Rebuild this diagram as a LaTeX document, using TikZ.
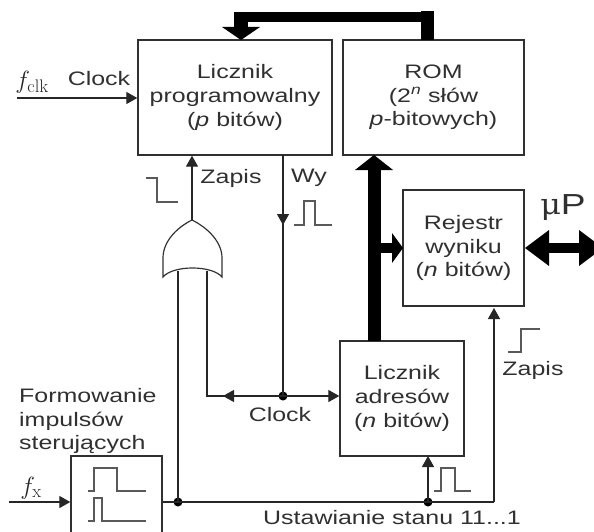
\documentclass[tikz,border=0pt]{standalone}
\usepackage{fontspec}
\setmainfont[FakeStretch=1.28]{Liberation Sans}
\newfontfamily\symfont[FakeStretch=1.1]{DejaVu Serif}
\setmathrm{Latin Modern Roman}
\usetikzlibrary{arrows.meta}
\definecolor{ink}{HTML}{303030}
\tikzset{
  x=1pt,y=-1pt,
  blok/.style={draw=ink,line width=1.4pt,fill=white,minimum width=#1,inner sep=0pt,align=center,text=ink,font=\fontsize{19.5}{23.7}\selectfont},
  txt/.style={text=ink,font=\fontsize{19.5}{23.7}\selectfont,inner sep=0pt,align=center},
  sig/.style={draw=black!85,line width=1.3pt},
  arr/.style={sig,-{Triangle[length=11pt,width=12pt]}},
  puls/.style={draw=black!65,line width=1.1pt},
  dot/.style={circle,fill=black,inner sep=0pt,minimum size=9pt},
  bus/.style={draw=black,line width=#1}
}
\begin{document}
\begin{tikzpicture}
\useasboundingbox (0,0) rectangle (594,532);
\clip (0,0) rectangle (594,532);
% boxes
\node[blok=194pt,minimum height=115pt] (lp) at (235,97.5) {Licznik\\programowalny\\(\textit{p} bitów)};
\node[blok=181pt,minimum height=115pt] (rom) at (433.5,97.5) {ROM\\(2\textsuperscript{\textit{n}} słów\\\textit{p}-bitowych)};
\node[blok=121pt,minimum height=116pt] (rej) at (463.5,248) {Rejestr\\wyniku\\(\textit{n} bitów)};
\node[blok=124pt,minimum height=115pt] (la) at (402,398.5) {Licznik\\adresów\\(\textit{n} bitów)};
\node[blok=91pt,minimum height=90pt] (fi) at (116.5,501) {};
% free ends and junctions
\coordinate (clkin) at (17,98);
\coordinate (fxin) at (9,502);
\coordinate (orout) at (192,220);
\coordinate (orl) at (178,271);
\coordinate (orr) at (207,271);
\node[dot] (j1) at (178,502) {};
\node[dot] (j2) at (428,502) {};
\node[dot] (j3) at (283,396) {};
\coordinate (cor1) at (207,396);
\coordinate (cor2) at (494,502);
% thin connectors
\draw[arr] (clkin) -- (clkin -| lp.west);
\draw[arr] (fxin) -- (fxin -| fi.west);
\draw[arr] (orout) -- (orout |- lp.south);
\draw[arr] (283,155) -- (283,225);
\draw[sig] (283,220) -- (j3.center);
\draw[sig] (orr) -- (cor1) -- (j3.center);
\draw[arr] (j3.center) -- (223,396);
\draw[arr] (j3.center) -- (j3 -| la.west);
\draw[sig] (fi.east |- j1) -- (j2.center) -- (cor2);
\draw[arr] (cor2) -- (494,308);
\draw[arr] (j2.center) -- (428,456);
\draw[sig] (orl) -- (j1.center);
% OR gate
\draw[draw=black!80,line width=1.2pt] (orout) .. controls (176,228) and (163,242) .. (163,258) -- (163,277)
  .. controls (173,265) and (212,265) .. (222,277) -- (222,258)
  .. controls (222,242) and (208,228) .. (orout) -- cycle;
% buses
\draw[bus=13pt] (427.5,40) -- (427.5,11.5);
\draw[bus=10pt] (434,17) -- (233.5,17);
\draw[bus=14pt] (240.5,12) -- (240.5,28);
\fill[black] (222,27) -- (260,27) -- (241,40) -- cycle;
\draw[bus=13pt] (374,341) -- (374,168);
\fill[black] (355,170) -- (393,170) -- (374,155) -- cycle;
\draw[bus=10pt] (374,248) -- (394,248);
\fill[black] (392,233) -- (392,263) -- (403,248) -- cycle;
\draw[bus=10pt] (545,248) -- (582,248);
\fill[black] (549,230) -- (549,266) -- (525,248) -- cycle;
\fill[black] (579,230) -- (579,266) -- (603,248) -- cycle;
% pulses
\draw[puls] (146,178) -- (157,178) -- (157,202) -- (178,202);
\draw[puls] (294,225) -- (304,225) -- (304,201) -- (315,201) -- (315,225) -- (332,225);
\draw[puls] (88,491) -- (94,491) -- (94,468) -- (117,468) -- (117,491) -- (146,491);
\draw[puls] (88,521) -- (94,521) -- (94,498) -- (102,498) -- (102,521) -- (146,521);
\draw[puls] (434,491) -- (441,491) -- (441,468) -- (455,468) -- (455,491) -- (471,491);
\draw[puls] (508,352) -- (521,352) -- (521,329) -- (540,329);
% labels
\node[txt] (t1) at (99,79) {Clock};
\node[txt] (t2) at (231,178) {Zapis};
\node[txt] (t3) at (309,178) {Wy};
\node[txt] (t4) at (280,415) {Clock};
\node[txt] (t5) at (533,370) {Zapis};
\node[txt] (t6) at (392,518) {Ustawianie stanu 11...1};
\node[txt,align=left,anchor=west] (t7) at (19,421) {Formowanie\\impulsów\\sterujących};
\node[text=ink,inner sep=0pt,font=\fontsize{29}{29}\selectfont] (t8) at (563,208) {{\symfont μ}P};
\node[text=black!85,inner sep=0pt,font=\fontsize{26}{26}\selectfont] (t9) at (32,82) {$f_{\mathrm{clk}}$};
\node[text=black!85,inner sep=0pt,font=\fontsize{26}{26}\selectfont] (t10) at (31,488) {$f_{\mathrm{x}}$};
\end{tikzpicture}
\end{document}
